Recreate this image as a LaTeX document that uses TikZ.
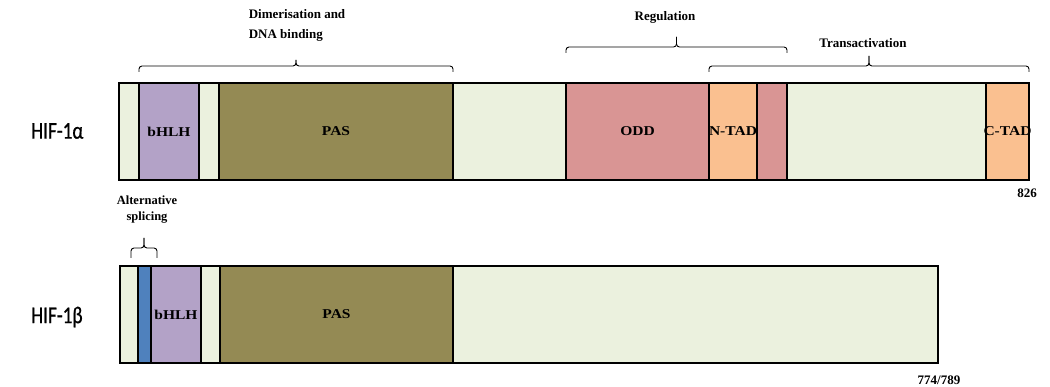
\documentclass[tikz,border=0pt]{standalone}
\usepackage{fontspec}
\setmainfont{Liberation Serif}
\newfontfamily\domfont{Liberation Serif}[FakeStretch=1.15]
\newfontfamily\hiffont{Carlito}[FakeStretch=0.8, FakeBold=0.8]
\usetikzlibrary{calc,positioning}
\definecolor{bgseg}{HTML}{EBF1DE}
\definecolor{bhlhc}{HTML}{B3A2C7}
\definecolor{pasc}{HTML}{948A54}
\definecolor{oddc}{HTML}{D99594}
\definecolor{tadc}{HTML}{FAC090}
\definecolor{splc}{HTML}{4F81BD}
\tikzset{
  seg/.style={draw, line width=1.3pt, minimum height=97pt, inner sep=0pt, outer sep=0pt,
    font=\domfont\bfseries\fontsize{13.5}{15}\selectfont},
  brk/.style={line width=0.9pt, rounded corners=3pt},
  brklab/.style={font=\bfseries\fontsize{13}{20}\selectfont, align=left, inner sep=0pt},
  protlab/.style={font=\hiffont\fontsize{24}{26}\selectfont, anchor=west, inner sep=0pt},
  endlab/.style={font=\bfseries\fontsize{13}{15}\selectfont, inner sep=0pt}
}

\begin{document}
\begin{tikzpicture}[x=1pt, y=-1pt]
  \useasboundingbox (0,0) rectangle (1050,387);

  % HIF-1 alpha
  \node[seg, fill=bgseg, minimum width=20pt, anchor=north west] (a0) at (119,83) {};
  \node[seg, fill=bhlhc, minimum width=60pt, right=0pt of a0] (bhlhA) {bHLH};
  \node[seg, fill=bgseg, minimum width=20pt, right=0pt of bhlhA] (a1) {};
  \node[seg, fill=pasc, minimum width=234pt, right=0pt of a1] (pasA) {PAS};
  \node[seg, fill=bgseg, minimum width=113pt, right=0pt of pasA] (a2) {};
  \node[seg, fill=oddc, minimum width=143pt, right=0pt of a2] (odd) {ODD};
  \node[seg, fill=tadc, minimum width=48pt, right=0pt of odd] (ntad) {\makebox[0pt]{N-TAD}};
  \node[seg, fill=oddc, minimum width=30pt, right=0pt of ntad] (odd2) {};
  \node[seg, fill=bgseg, minimum width=199pt, right=0pt of odd2] (a3) {};
  \node[seg, fill=tadc, minimum width=43pt, right=0pt of a3] (ctad) {\makebox[0pt]{C-TAD}};

  % HIF-1 beta
  \node[seg, fill=bgseg, minimum width=18pt, anchor=north west] (b0) at (120,266) {};
  \node[seg, fill=splc, minimum width=13pt, right=0pt of b0] (spl) {};
  \node[seg, fill=bhlhc, minimum width=50pt, right=0pt of spl] (bhlhB) {bHLH};
  \node[seg, fill=bgseg, minimum width=19pt, right=0pt of bhlhB] (b1) {};
  \node[seg, fill=pasc, minimum width=233pt, right=0pt of b1] (pasB) {PAS};
  \node[seg, fill=bgseg, minimum width=485pt, right=0pt of pasB] (b2) {};

  % names and lengths
  \node[protlab] (hifa) at (31,131) {HIF-1α};
  \node[protlab] (hifb) at (31,317) {HIF-1β};
  \node[endlab, anchor=east] (lenA) at (1037,193) {826};
  \node[endlab] (lenB) at (939,380) {774/789};

  % bracket labels
  \node[brklab] (dimlab) at (297,25) {Dimerisation and\\DNA binding};
  \node[brklab] (reglab) at (665,17) {Regulation};
  \node[brklab] (translab) at (863,43) {Transactivation};
  \node[brklab, align=center, font=\bfseries\fontsize{12.5}{16}\selectfont] (altlab) at (147,210) {Alternative\\splicing};

  % brackets
  \coordinate (dl) at ($(bhlhA.north west)+(0,-11)$);
  \coordinate (dr) at ($(pasA.north east)+(0,-11)$);
  \draw[brk] (dl) -- ++(0,-6) coordinate (dh) -- ($(dh)!.5!(dr |- dh)$) coordinate (dm) -- ++(0,-6);
  \draw[brk] (dr) -- (dr |- dm) -- (dm) -- ++(0,-6);

  \coordinate (rl) at ($(odd.north west)+(0,-30)$);
  \coordinate (rr) at ($(odd2.north east)+(0,-30)$);
  \draw[brk] (rl) -- ++(0,-6) coordinate (rh) -- ($(rh)!.5!(rr |- rh)$) coordinate (rm) -- ++(0,-10);
  \draw[brk] (rr) -- (rr |- rm) -- (rm) -- ++(0,-10);

  \coordinate (tl) at ($(ntad.north west)+(0,-11)$);
  \coordinate (tr) at ($(ctad.north east)+(0,-11)$);
  \draw[brk] (tl) -- ++(0,-6) coordinate (th) -- ($(th)!.5!(tr |- th)$) coordinate (tm) -- ++(0,-10);
  \draw[brk] (tr) -- (tr |- tm) -- (tm) -- ++(0,-10);

  \coordinate (sl) at ($(spl.north west)+(-7,-8)$);
  \coordinate (sr) at ($(spl.north east)+(6,-8)$);
  \draw[brk] (sl) -- ++(0,-10) coordinate (sh) -- ($(sh)!.5!(sr |- sh)$) coordinate (sm) -- ++(0,-10);
  \draw[brk] (sr) -- (sr |- sm) -- (sm) -- ++(0,-10);
\end{tikzpicture}
\end{document}
